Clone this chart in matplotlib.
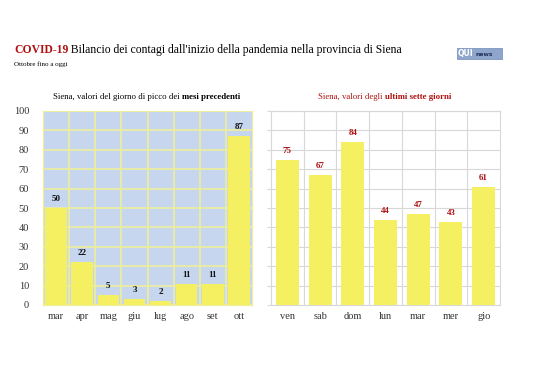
import matplotlib.pyplot as plt
import matplotlib.patches as mpatches
import numpy as np

# --- DATI ---
mesi = ["mar", "apr", "mag", "giu", "lug", "ago", "set", "ott"]
picco_mesi = [50, 22, 5, 3, 2, 11, 11, 87]

giorni = ["ven", "sab", "dom", "lun", "mar", "mer", "gio"]
ultimi_giorni = [75, 67, 84, 44, 47, 43, 61]

SERIF = "Liberation Serif"
YELLOW = "#F4F062"
DARKRED = "#B01010"

plt.rcParams["font.family"] = SERIF

W, H = 538, 380
fig = plt.figure(figsize=(W / 100, H / 100), dpi=100)
fig.patch.set_facecolor("white")


def two_part_text(x, y, a, b, color, size, bold_first=False, ha="center"):
    # testo con due pesi diversi, centrato come un'unica riga
    w1 = "bold" if bold_first else "normal"
    w2 = "normal" if bold_first else "bold"
    t1 = fig.text(x, y, a, fontsize=size, color=color, weight=w1, va="center", ha="left")
    t2 = fig.text(x, y, b, fontsize=size, color=color, weight=w2, va="center", ha="left")
    r = fig.canvas.get_renderer()
    wa = t1.get_window_extent(r).width / fig.bbox.width
    wb = t2.get_window_extent(r).width / fig.bbox.width
    start = x - (wa + wb) / 2 if ha == "center" else x
    t1.set_x(start)
    t2.set_x(start + wa)
    return t1, t2


# --- titolo ---
t1, _ = two_part_text(14 / W, 1 - 50 / H, "COVID-19",
                      " Bilancio dei contagi dall'inizio della pandemia nella provincia di Siena",
                      "black", 8.4, bold_first=True, ha="left")
t1.set_color(DARKRED)
fig.text(14 / W, 1 - 64 / H, "Ottobre fino a oggi", fontsize=5, va="center")

# logo
fig.patches.append(mpatches.Rectangle((457 / W, 1 - 59 / H), 45 / W, 11 / H, transform=fig.transFigure,
                                      fc="#8FA6CC", ec="#7F96BF", lw=0.6))
fig.text(458 / W, 1 - 53.5 / H, "QUI", fontsize=5.5, weight="bold", color="white", ha="left", va="center",
         family="DejaVu Sans")
fig.text(476 / W, 1 - 54 / H, "news", fontsize=4.3, weight="bold", color="#22305A", ha="left", va="center",
         family="DejaVu Sans")

# --- grafico mesi ---
ax1 = fig.add_axes([43 / W, 1 - 305 / H, 209 / W, 194 / H])
x1 = np.arange(len(mesi))
ax1.set_facecolor("#C6D6EF")
ax1.set_axisbelow(True)
ax1.bar(x1, picco_mesi, width=0.82, color=YELLOW, zorder=3)
for i, v in enumerate(picco_mesi):
    ax1.text(i, v + 2.5, str(v), ha="center", va="bottom", fontsize=6.5, weight="bold", color="#111111")
ax1.set_xlim(-0.5, len(mesi) - 0.5)
ax1.set_ylim(0, 100)
ax1.set_yticks(range(0, 101, 10))
ax1.set_xticks(x1)
ax1.set_xticklabels(mesi)
ax1.set_xticks(x1[:-1] + 0.5, minor=True)
ax1.grid(axis="y", color="#EEEE9A", lw=1.2)
ax1.grid(axis="x", which="minor", color="#EEEE9A", lw=1.2)
ax1.tick_params(axis="both", which="both", length=0, labelsize=7.5, colors="#333333", pad=5)
ax1.tick_params(axis="y", pad=10)
for s in ax1.spines.values():
    s.set_color("#EEEE9A")
two_part_text((43 + 104) / W, 1 - 97 / H, "Siena, valori del giorno di picco dei ", "mesi precedenti",
              "black", 6.3)

# --- grafico ultimi giorni ---
ax2 = fig.add_axes([271 / W, 1 - 305 / H, 229 / W, 194 / H])
x2 = np.arange(len(giorni))
ax2.set_axisbelow(True)
ax2.bar(x2, ultimi_giorni, width=0.7, color=YELLOW, zorder=3)
for i, v in enumerate(ultimi_giorni):
    ax2.text(i, v + 2.5, str(v), ha="center", va="bottom", fontsize=6.5, weight="bold", color=DARKRED)
ax2.set_xlim(-0.5, len(giorni) - 0.5)
ax2.set_ylim(0, 100)
ax2.set_yticks(range(0, 101, 10))
ax2.set_yticklabels([])
ax2.set_xticks(x2)
ax2.set_xticklabels(giorni)
ax2.set_xticks(x2[:-1] + 0.5, minor=True)
ax2.grid(axis="y", color="#D8D8D8", lw=0.8)
ax2.grid(axis="x", which="minor", color="#D8D8D8", lw=0.8)
ax2.tick_params(axis="x", which="both", length=0, labelsize=7.5, colors="#333333", pad=5)
ax2.tick_params(axis="y", length=3, color="#D8D8D8")
for s in ax2.spines.values():
    s.set_color("#D8D8D8")
two_part_text((271 + 114) / W, 1 - 97 / H, "Siena, valori degli ", "ultimi sette giorni",
              DARKRED, 6.3)

fig.savefig("out.png", dpi=100)
